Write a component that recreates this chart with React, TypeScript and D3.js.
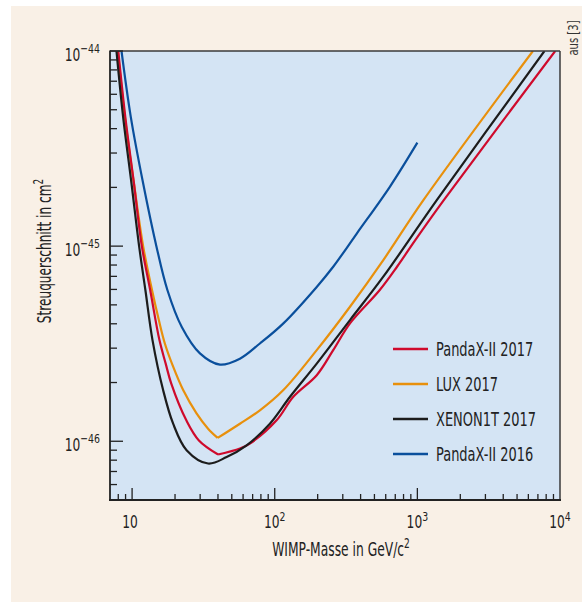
import React from 'react'
import * as d3 from 'd3'

// WIMP mass (GeV/c²) and cross-section (cm²)
const xenonMass = [7.77, 8.65, 9.9, 11.2, 12.4, 13.9, 16.5, 19.4, 24.1, 34.1, 46.0, 63.5, 92.5, 128, 197, 337, 577, 1368, 7780]
const xenonSigma = [1e-44, 4.6e-45, 2.1e-45, 1e-45, 5.94e-46, 3.3e-46, 1.83e-46, 1.23e-46, 9.0e-47, 7.69e-47, 8.3e-47, 9.53e-47, 1.23e-46, 1.69e-46, 2.5e-46, 4.18e-46, 6.97e-46, 1.72e-45, 1e-44]

const luxMass = [7.94, 8.89, 10.3, 11.95, 13.8, 15.4, 16.97, 19.4, 22.8, 28.3, 34.1, 39.8, 57.0, 78.7, 115, 197, 337, 577, 1102, 6457]
const luxSigma = [1e-44, 4.6e-45, 2.1e-45, 1e-45, 5.94e-46, 4.18e-46, 3.17e-46, 2.41e-46, 1.83e-46, 1.39e-46, 1.16e-46, 1.04e-46, 1.23e-46, 1.44e-46, 1.83e-46, 2.93e-46, 4.89e-46, 8.48e-46, 1.72e-45, 1e-44]

const panda17Mass = [8.0, 8.96, 10.3, 11.7, 13.4, 15.55, 17.2, 18.8, 24.0, 29.4, 40.1, 57.0, 67.0, 103, 135, 197, 257, 337, 543, 720, 964, 1532, 9254]
const panda17Sigma = [1e-44, 4.6e-45, 2.1e-45, 1e-45, 5.94e-46, 3.3e-46, 2.5e-46, 1.98e-46, 1.28e-46, 1.01e-46, 8.55e-47, 9.19e-47, 9.73e-47, 1.28e-46, 1.69e-46, 2.18e-46, 2.93e-46, 4.02e-46, 5.94e-46, 7.84e-46, 1.07e-45, 1.72e-45, 1e-44]

const panda16Mass = [8.43, 9.79, 11.95, 14.8, 17.7, 22.3, 29.9, 41.3, 57.0, 78.7, 115, 197, 257, 376, 643, 1000]
const panda16Sigma = [1e-44, 4.6e-45, 2.1e-45, 1e-45, 5.94e-46, 3.85e-46, 2.82e-46, 2.47e-46, 2.65e-46, 3.17e-46, 4.02e-46, 6.18e-46, 7.84e-46, 1.16e-45, 2.02e-45, 3.39e-45]

const seriesNames = ['PandaX-II 2017', 'LUX 2017', 'XENON1T 2017', 'PandaX-II 2016']
const seriesColors = ['#cf0a2c', '#e8900c', '#1c1c1c', '#0a4f9c']
// index of a sharp corner (the curve is split there), or -1
const seriesCorner = [10, 11, -1, -1]
const seriesData = [
  [panda17Mass, panda17Sigma],
  [luxMass, luxSigma],
  [xenonMass, xenonSigma],
  [panda16Mass, panda16Sigma],
]
// draw order: blue, orange, red, black
const drawOrder = [3, 1, 0, 2]

const xMajor = [10, 100, 1000, 10000]
const xMajorExp = ['', '2', '3', '4']
const yMajor = [1e-44, 1e-45, 1e-46]
const yMajorExp = ['−44', '−45', '−46']

const FONT = "'Liberation Sans Narrow', 'DejaVu Sans Condensed', Roboto, sans-serif"

// text squeezed horizontally to mimic the condensed face of the original
function Narrow({ tx, ty, sx, rotate = 0, anchor = 'start', size, fill = '#222', children }: any) {
  return (
    <g transform={`translate(${tx},${ty}) rotate(${rotate}) scale(${sx},1)`}>
      <text x={0} y={0} textAnchor={anchor} fontSize={size} fill={fill}>{children}</text>
    </g>
  )
}

export default function App() {
  const width = 582
  const height = 602
  const plot = { left: 110, top: 51, right: 560, bottom: 500 }

  const x = d3.scaleLog().domain([7, 10000]).range([plot.left, plot.right])
  const y = d3.scaleLog().domain([5e-47, 1e-44]).range([plot.bottom, plot.top])

  const line = d3.line<[number, number]>()
    .x(d => x(d[0]))
    .y(d => y(d[1]))
    .curve(d3.curveCatmullRom.alpha(0.5))

  const pathFor = (i: number) => {
    const [ms, ss] = seriesData[i]
    const pts = ms.map((m, k) => [m, ss[k]] as [number, number])
    const c = seriesCorner[i]
    if (c < 0) return line(pts) || ''
    return (line(pts.slice(0, c + 1)) || '') + (line(pts.slice(c)) || '')
  }

  const xTicks = x.ticks().filter(t => t > 7 && t < 10000)
  const yTicks = y.ticks().filter(t => t > 5.01e-47)
  const isPow10 = (v: number) => Math.abs(Math.log10(v) - Math.round(Math.log10(v))) < 1e-6

  const legendX = 393
  const legendY0 = 349
  const legendStep = 35

  return (
    <svg width={width} height={height} style={{ position: 'absolute', left: 0, top: 0, display: 'block' }}
      fontFamily={FONT}>
      <rect x={0} y={0} width={width} height={height} fill="#ffffff" />
      <rect x={11} y={6} width={width - 11} height={height - 6} fill="#f9f0e6" />
      <defs>
        <clipPath id="plotclip">
          <rect x={plot.left} y={plot.top} width={plot.right - plot.left} height={plot.bottom - plot.top} />
        </clipPath>
      </defs>
      <rect x={plot.left} y={plot.top} width={plot.right - plot.left} height={plot.bottom - plot.top} fill="#d4e4f4" />

      {/* curves */}
      <g clipPath="url(#plotclip)" fill="none" strokeWidth={2.2} strokeLinejoin="round">
        {drawOrder.map(i => (
          <path key={i} d={pathFor(i)} stroke={seriesColors[i]} />
        ))}
      </g>

      {/* frame */}
      <line x1={plot.left} x2={plot.right} y1={plot.top} y2={plot.top} stroke="#3a3a3a" strokeWidth={1.5} />
      <line x1={plot.right} x2={plot.right} y1={plot.top} y2={plot.bottom} stroke="#3a3a3a" strokeWidth={1.5} />
      <line x1={plot.left} x2={plot.left} y1={plot.top - 0.5} y2={plot.bottom + 1} stroke="#222" strokeWidth={1.8} />
      <line x1={plot.left - 1} x2={plot.right + 1} y1={plot.bottom} y2={plot.bottom} stroke="#222" strokeWidth={2.2} />

      {/* y ticks */}
      {yTicks.map(t => (
        <line key={'y' + t} x1={plot.left} x2={plot.left + (isPow10(t) ? 13 : 7)} y1={y(t)} y2={y(t)}
          stroke="#222" strokeWidth={1.3} />
      ))}
      {yMajor.map((t, i) => (
        <Narrow key={'yl' + t} tx={100} ty={y(t) + 10} sx={0.8} anchor="end" size={17}>
          10<tspan fontSize={13} dy={-8}>{yMajorExp[i]}</tspan>
        </Narrow>
      ))}

      {/* x ticks */}
      {xTicks.map(t => (
        <line key={'x' + t} x1={x(t)} x2={x(t)} y1={plot.bottom} y2={plot.bottom - (isPow10(t) ? 12 : 6)}
          stroke="#222" strokeWidth={1.3} />
      ))}
      {xMajor.map((t, i) => (
        <Narrow key={'xl' + t} tx={x(t) - (xMajorExp[i] ? 0 : 2)} ty={528} sx={0.8} anchor="middle" size={17}>
          10{xMajorExp[i] && <tspan fontSize={13} dy={-7}>{xMajorExp[i]}</tspan>}
        </Narrow>
      ))}

      {/* axis titles */}
      <Narrow tx={341} ty={556} sx={0.72} anchor="middle" size={19}>
        WIMP-Masse in GeV/c<tspan fontSize={14} dy={-8}>2</tspan>
      </Narrow>
      <Narrow tx={51} ty={251} sx={0.71} rotate={-90} anchor="middle" size={19}>
        Streuquerschnitt in cm<tspan fontSize={14} dy={-8}>2</tspan>
      </Narrow>
      <Narrow tx={578} ty={38} sx={0.8} rotate={-90} anchor="middle" size={14} fill="#333">
        aus [3]
      </Narrow>

      {/* legend */}
      {seriesNames.map((name, i) => (
        <g key={name} transform={`translate(${legendX},${legendY0 + i * legendStep})`}>
          <line x1={0} x2={35} y1={0} y2={0} stroke={seriesColors[i]} strokeWidth={2.6} />
          <Narrow tx={43} ty={7} sx={0.76} size={19}>{name}</Narrow>
        </g>
      ))}
    </svg>
  )
}
